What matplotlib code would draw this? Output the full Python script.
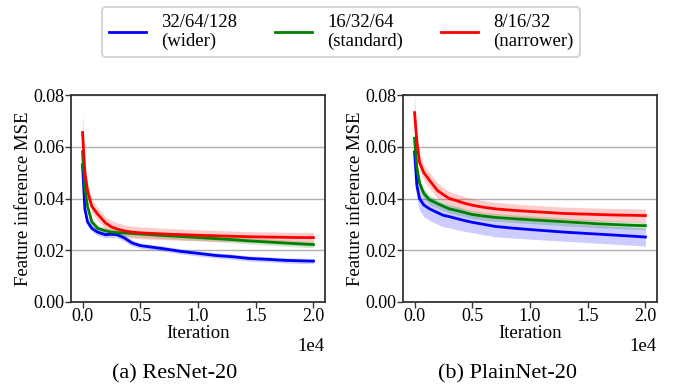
import matplotlib
matplotlib.use("Agg")
import matplotlib.pyplot as plt
import numpy as np

plt.rcParams['font.family'] = ['Liberation Serif', 'DejaVu Serif']
plt.rcParams['mathtext.fontset'] = 'stix'

iters = [0, 200, 430, 800, 1300, 2000, 2500, 3000, 3600, 4300, 5000, 6000, 7000,
         8600, 10000, 11500, 13000, 14500, 16000, 17500, 19000, 20000]

labels = ["32/64/128\n(wider)", "16/32/64\n(standard)", "8/16/32\n(narrower)"]
colors = ["blue", "green", "red"]

# ResNet-20
res_wide = [0.053, 0.036, 0.031, 0.0285, 0.027, 0.026, 0.0262, 0.026, 0.0248, 0.0228, 0.0218, 0.0212,
            0.0206, 0.0195, 0.0188, 0.0180, 0.0175, 0.0168, 0.0165, 0.0161, 0.0159, 0.0158]
res_std = [0.058, 0.044, 0.037, 0.031, 0.0285, 0.0275, 0.027, 0.0268, 0.0267, 0.0265, 0.0263, 0.026,
           0.0257, 0.0253, 0.0249, 0.0245, 0.0241, 0.0236, 0.0232, 0.0228, 0.0224, 0.0222]
res_narrow = [0.0655, 0.050, 0.043, 0.037, 0.034, 0.0305, 0.029, 0.0282, 0.0275, 0.027, 0.0267, 0.0265,
              0.0263, 0.0260, 0.0258, 0.0256, 0.0254, 0.0252, 0.0251, 0.0250, 0.0249, 0.0249]
res_wide_sd = [0.004, 0.002, 0.0015, 0.0012, 0.0012, 0.0012, 0.0012, 0.0012, 0.0012, 0.0012, 0.001, 0.001,
               0.001, 0.001, 0.001, 0.001, 0.001, 0.001, 0.001, 0.001, 0.001, 0.001]
res_std_sd = [0.004, 0.002, 0.0015, 0.0012, 0.0012, 0.0012, 0.0012, 0.0012, 0.0012, 0.0012, 0.0012, 0.0012,
              0.0012, 0.0012, 0.0012, 0.0012, 0.0012, 0.0012, 0.0012, 0.0012, 0.0012, 0.0012]
res_narrow_sd = [0.009, 0.004, 0.003, 0.0025, 0.0025, 0.0025, 0.0025, 0.0024, 0.0023, 0.0023, 0.0023, 0.0023,
                 0.0022, 0.0022, 0.0021, 0.0021, 0.002, 0.002, 0.002, 0.002, 0.002, 0.002]

# PlainNet-20
pl_wide = [0.058, 0.045, 0.040, 0.0375, 0.036, 0.0345, 0.0335, 0.033, 0.0323, 0.0315, 0.0308, 0.030,
           0.0292, 0.0285, 0.028, 0.0275, 0.027, 0.0266, 0.0262, 0.0258, 0.0254, 0.0251]
pl_std = [0.0633, 0.052, 0.046, 0.042, 0.0395, 0.038, 0.037, 0.036, 0.0354, 0.0346, 0.0338, 0.0332,
          0.0327, 0.0322, 0.0318, 0.0314, 0.031, 0.0306, 0.0302, 0.0299, 0.0296, 0.0295]
pl_narrow = [0.0732, 0.062, 0.054, 0.050, 0.047, 0.043, 0.0415, 0.040, 0.0392, 0.0382, 0.0374, 0.0366,
             0.036, 0.0354, 0.035, 0.0346, 0.0342, 0.034, 0.0338, 0.0336, 0.0335, 0.0334]
pl_wide_sd = [0.006, 0.005, 0.0045, 0.0045, 0.0045, 0.0045, 0.0045, 0.0043, 0.0043, 0.0042, 0.004, 0.004,
              0.004, 0.0038, 0.0037, 0.0036, 0.0035, 0.0035, 0.0035, 0.0035, 0.0035, 0.0035]
pl_std_sd = [0.003, 0.002, 0.002, 0.0018, 0.0018, 0.0017, 0.0017, 0.0016, 0.0016, 0.0016, 0.0016, 0.0015,
             0.0015, 0.0015, 0.0015, 0.0015, 0.0015, 0.0015, 0.0015, 0.0015, 0.0015, 0.0015]
pl_narrow_sd = [0.007, 0.004, 0.003, 0.003, 0.003, 0.003, 0.0028, 0.0027, 0.0026, 0.0026, 0.0025, 0.0025,
                0.0025, 0.0025, 0.0025, 0.0025, 0.0025, 0.0025, 0.0025, 0.0025, 0.0025, 0.0025]

panels = [
    ("(a) ResNet-20", [res_wide, res_std, res_narrow], [res_wide_sd, res_std_sd, res_narrow_sd]),
    ("(b) PlainNet-20", [pl_wide, pl_std, pl_narrow], [pl_wide_sd, pl_std_sd, pl_narrow_sd]),
]

fig = plt.figure(figsize=(6.76, 3.88), dpi=100)
W, H = 676, 388
axes_px = [(71, 95, 325, 302), (403, 95, 657, 302)]
caption_x = [175, 507]

x = np.array(iters)
handles = []
for i, (cap, means, sds) in enumerate(panels):
    l, t, r, b = axes_px[i]
    ax = fig.add_axes([l / W, 1 - b / H, (r - l) / W, (b - t) / H])
    for m, s, c, lab in zip(means, sds, colors, labels):
        m = np.array(m); s = np.array(s)
        ax.fill_between(x, m - s, m + s, color=c, alpha=0.2, linewidth=0)
        h, = ax.plot(x, m, color=c, lw=2.0, label=lab)
        if i == 0:
            handles.append(h)
    ax.set_xlim(-1000, 21000)
    ax.set_ylim(0, 0.08)
    ax.set_yticks([0, 0.02, 0.04, 0.06, 0.08])
    ax.set_yticklabels(["0.00", "0.02", "0.04", "0.06", "0.08"])
    ax.set_xticks([0, 5000, 10000, 15000, 20000])
    ax.set_xticklabels(["0.0", "0.5", "1.0", "1.5", "2.0"])
    ax.grid(axis='y', color='#b0b0b0', lw=1.0)
    ax.set_axisbelow(True)
    for sp in ax.spines.values():
        sp.set_color('#333333')
        sp.set_linewidth(1.3)
    ax.tick_params(labelsize=13, color='#333333', width=1.0, length=4, pad=0.5)
    ax.set_ylabel("Feature inference MSE", fontsize=13.5, labelpad=1)
    ax.set_xlabel("Iteration", fontsize=13.5, labelpad=0)
    ax.text(1.0, -0.175, "1e4", transform=ax.transAxes, ha='right', va='top', fontsize=13.5)
    fig.text(caption_x[i] / W, 1 - 374 / H, cap, ha='center', va='center', fontsize=16)

leg = fig.legend(handles=handles, loc='center', bbox_to_anchor=(341 / W, 1 - 32 / H), ncol=3,
                 fontsize=13.5, frameon=True, handlelength=2.0, columnspacing=2.0,
                 handletextpad=0.8, borderpad=0.35, labelspacing=0.2)
leg.get_frame().set_edgecolor('#cccccc')
leg.get_frame().set_linewidth(1.5)
for line in leg.get_lines():
    line.set_linewidth(2.0)

fig.savefig("out.png", dpi=100)
